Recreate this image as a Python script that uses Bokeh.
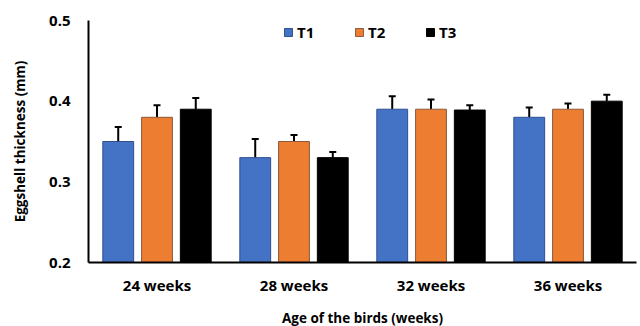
from bokeh.plotting import figure
from bokeh.models import (ColumnDataSource, FactorRange, Range1d, Whisker, TeeHead,
                          Legend, LegendItem, FixedTicker)
from bokeh.transform import dodge
from bokeh.embed import file_html
from bokeh.resources import INLINE

ages = ["24 weeks", "28 weeks", "32 weeks", "36 weeks"]
t1 = [0.35, 0.33, 0.39, 0.38]
t2 = [0.38, 0.35, 0.39, 0.39]
t3 = [0.39, 0.33, 0.389, 0.40]
t1_err = [0.018, 0.023, 0.016, 0.012]
t2_err = [0.015, 0.008, 0.012, 0.007]
t3_err = [0.014, 0.007, 0.006, 0.008]
series_names = ["T1", "T2", "T3"]
y_ticks = [0.2, 0.3, 0.4, 0.5]

FONT = "Open Sans"

src = ColumnDataSource(dict(
    age=ages, t1=t1, t2=t2, t3=t3,
    t1_up=[v + e for v, e in zip(t1, t1_err)],
    t2_up=[v + e for v, e in zip(t2, t2_err)],
    t3_up=[v + e for v, e in zip(t3, t3_err)],
))

p = figure(frame_width=548, frame_height=242, x_range=FactorRange(factors=ages),
           y_range=Range1d(0.2, 0.5), output_backend="svg", toolbar_location=None,
           min_border_left=88, min_border_right=4, min_border_top=20, min_border_bottom=60)
p.outline_line_color = None
p.xgrid.grid_line_color = None
p.ygrid.grid_line_color = None
p.background_fill_color = "white"
p.border_fill_color = "white"

colors = ["#4472C4", "#ED7D31", "#000000"]
lines = ["#2F4F8F", "#8A5A3C", "#000000"]
offsets = [-0.283, 0.0, 0.283]
keys = ["t1", "t2", "t3"]
renderers = []
for k, c, lc, off in zip(keys, colors, lines, offsets):
    r = p.vbar(x=dodge("age", off, range=p.x_range), top=k, bottom=0.2, width=0.225,
               source=src, fill_color=c, line_color=lc, line_width=1)
    renderers.append(r)
    w = Whisker(base=dodge("age", off, range=p.x_range), upper=k + "_up", lower=k,
                source=src, line_color="black", line_width=2,
                upper_head=TeeHead(size=7, line_color="black", line_width=2),
                lower_head=None)
    p.add_layout(w)

legend = Legend(items=[LegendItem(label=n, renderers=[r]) for n, r in zip(series_names, renderers)],
                orientation="horizontal", location=(195, 218), padding=0, margin=0,
                spacing=37, label_standoff=4, glyph_width=10, glyph_height=10,
                label_height=24,
                label_text_font=FONT, label_text_font_style="bold",
                label_text_font_size="15px", label_text_color="black",
                border_line_color=None, background_fill_alpha=0)
p.add_layout(legend, "center")

for ax in (p.xaxis[0], p.yaxis[0]):
    ax.axis_line_color = "black"
    ax.axis_line_width = 2
    ax.major_tick_line_color = None
    ax.minor_tick_line_color = None
    ax.major_tick_out = 0
    ax.major_tick_in = 0
    ax.major_label_text_font = FONT
    ax.major_label_text_font_style = "bold"
    ax.major_label_text_font_size = "15px"
    ax.major_label_text_color = "black"
    ax.axis_label_text_font = FONT
    ax.axis_label_text_font_style = "bold"
    ax.axis_label_text_font_size = "13.5px"
    ax.axis_label_text_color = "black"

p.yaxis.ticker = FixedTicker(ticks=y_ticks)
p.yaxis.major_label_standoff = 18
p.yaxis.axis_label = "Eggshell thickness (mm)"
p.yaxis.axis_label_standoff = 17
p.xaxis.major_label_standoff = 12
p.xaxis.axis_label = "Age of the birds (weeks)"
p.xaxis.axis_label_standoff = 11

open("out.html", "w").write(file_html(p, INLINE))
